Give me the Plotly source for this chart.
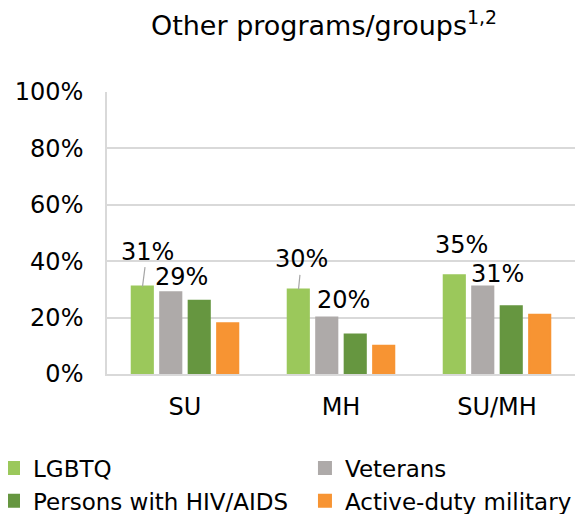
import plotly.graph_objects as go

categories = ["SU", "MH", "SU/MH"]
series_names = ["LGBTQ", "Veterans", "Persons with HIV/AIDS", "Active-duty military"]
lgbtq = [31, 30, 35]
veterans = [29, 20, 31]
hiv_aids = [26, 14, 24]
active_duty = [18, 10, 21]
y_ticks = [0, 20, 40, 60, 80, 100]

colors = ["#9BC85B", "#AEAAA9", "#669640", "#F79433"]
# legend is laid out in two columns: left column / right column
legend_ids = ["legend", "legend2", "legend", "legend2"]
FONT = "Verdana, DejaVu Sans, sans-serif"

# page body has an 8px margin, so the figure is 8px smaller than the window
W, H = 576, 506

fig = go.Figure()
for name, vals, col, lg in zip(series_names, [lgbtq, veterans, hiv_aids, active_duty], colors, legend_ids):
    fig.add_trace(go.Bar(
        x=categories,
        y=vals,
        name=name,
        legend=lg,
        marker=dict(color=col, line=dict(width=2, color=col)),
        hoverinfo="skip",
    ))

# data labels (only the first two series are labelled), offsets match the manual placement
label_specs = [
    # (category, value, xshift, yshift or (ax, ay), arrow)
    ("SU", lgbtq[0], -42.5, (4.5, -35), True),
    ("MH", lgbtq[1], -42.5, (3, -30), True),
    ("SU/MH", lgbtq[2], -36, 30, False),
    ("SU", veterans[0], -4, 15, False),
    ("MH", veterans[1], 2.5, 18, False),
    ("SU/MH", veterans[2], 0, 12.5, False),
]
for cat, val, xs, off, arrow in label_specs:
    if arrow:
        fig.add_annotation(
            x=cat, y=val, xshift=xs, text=f"{val}%",
            showarrow=True, arrowhead=0, arrowwidth=1.2, arrowcolor="#A6A6A6",
            ax=off[0], ay=off[1], standoff=0,
            font=dict(size=24, color="#000000", family=FONT),
        )
    else:
        fig.add_annotation(
            x=cat, y=val, xshift=xs, yshift=off, text=f"{val}%",
            showarrow=False,
            font=dict(size=24, color="#000000", family=FONT),
        )

legend_style = dict(
    orientation="v",
    yanchor="top",
    y=-0.257,
    xanchor="left",
    itemwidth=30,
    font=dict(size=23, family=FONT),
    traceorder="normal",
    tracegroupgap=0,
    bgcolor="rgba(0,0,0,0)",
)

fig.update_layout(
    width=W,
    height=H,
    margin=dict(l=99, r=9, t=84, b=140, autoexpand=False),
    paper_bgcolor="white",
    plot_bgcolor="white",
    font=dict(family=FONT, size=22, color="#000000"),
    title=dict(
        text="Other programs/groups<sup>1,2</sup>",
        x=316 / W, xref="container", xanchor="center",
        y=1 - 18 / H, yref="container", yanchor="middle",
        font=dict(size=27, family=FONT),
    ),
    barmode="group",
    bargap=0.27,
    bargroupgap=0.258,
    showlegend=True,
    legend=dict(x=-0.2436, **legend_style),
    legend2=dict(x=0.423, **legend_style),
)

fig.update_xaxes(
    showgrid=False,
    showline=True, linecolor="#D9D9D9", linewidth=1.5,
    ticks="", ticklabelstandoff=10,
    tickfont=dict(size=24, family=FONT),
)
fig.update_yaxes(
    range=[0, 100],
    tickvals=y_ticks,
    ticktext=[f"{v}%" for v in y_ticks],
    showgrid=True, gridcolor="#D9D9D9", gridwidth=1.5,
    zeroline=False,
    showline=True, linecolor="#D9D9D9", linewidth=1.5,
    ticks="", ticklabelstandoff=17,
    tickfont=dict(size=24, family=FONT),
)

fig.write_html("out.html")
